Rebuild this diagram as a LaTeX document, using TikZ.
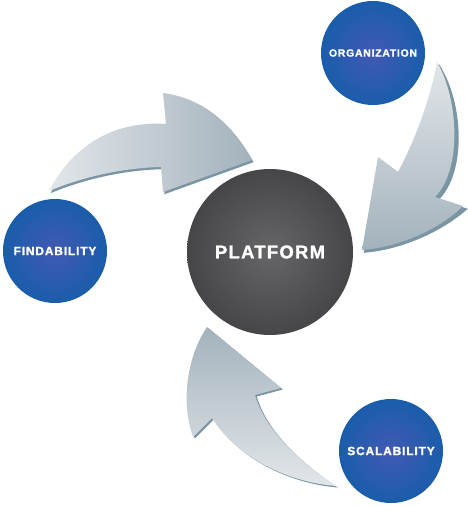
\documentclass[tikz,border=0pt]{standalone}
\usepackage{fontspec}
\newfontfamily\lab[LetterSpace=7,FakeBold=1.3]{Liberation Sans}
\definecolor{arrlight}{HTML}{E2E6E9}
\definecolor{arrdark}{HTML}{A3B2BC}
\definecolor{arrshadow}{HTML}{7A95A3}
\definecolor{blueout}{HTML}{1A5DAB}
\definecolor{bluein}{HTML}{4259B3}
\definecolor{grayout}{HTML}{464648}
\definecolor{grayin}{HTML}{666668}
\tikzset{
  small/.style={circle, inner sep=0pt, minimum size=104bp, shade, inner color=bluein, outer color=blueout, text=white, font=\lab\bfseries\fontsize{12}{12}\selectfont},
  big/.style={circle, inner sep=0pt, minimum size=166bp, shade, inner color=grayin, outer color=grayout, text=white, font=\lab\bfseries\fontsize{18.5}{18.5}\selectfont},
  shadowfill/.style={fill=arrshadow}
}
\begin{document}
\begin{tikzpicture}[x=1bp,y=-1bp]
\useasboundingbox (0,0) rectangle (468,507);
% ---- top-left arrow
\begin{scope}[shift={(1.5,2.2)}]
\fill[shadowfill] (49,191) .. controls (80,178) and (120,168) .. (161,167) -- (163,192) -- (252,160)
  .. controls (230,120) and (200,98) .. (163,93) -- (166,124) .. controls (110,120) and (70,150) .. (49,191) -- cycle;
\end{scope}
\shade[left color=arrlight, right color=arrdark] (49,191) .. controls (80,178) and (120,168) .. (161,167) -- (163,192) -- (252,160)
  .. controls (230,120) and (200,98) .. (163,93) -- (166,124) .. controls (110,120) and (70,150) .. (49,191) -- cycle;
% ---- right arrow
\begin{scope}[shift={(1.8,1.8)}]
\fill[shadowfill] (437,62) .. controls (462,100) and (465,170) .. (437,198) -- (466,207)
  .. controls (440,230) and (400,248) .. (362,251) -- (378,157) -- (398,172)
  .. controls (415,140) and (430,100) .. (437,62) -- cycle;
\end{scope}
\shade[top color=arrlight, bottom color=arrdark] (437,62) .. controls (459,100) and (462,170) .. (435,197) -- (463,206)
  .. controls (440,229) and (400,247) .. (362,250) -- (378,157) -- (398,172)
  .. controls (415,140) and (430,100) .. (437,62) -- cycle;
% ---- bottom arrow
\begin{scope}[shift={(1.8,1.5)}]
\fill[shadowfill] (336,486) .. controls (300,462) and (265,430) .. (255,395) -- (281,388) -- (207,327)
  .. controls (188,355) and (180,400) .. (193,437) -- (212,418)
  .. controls (235,455) and (285,482) .. (336,486) -- cycle;
\end{scope}
\shade[top color=arrdark, bottom color=arrlight] (336,486) .. controls (300,462) and (265,430) .. (255,395) -- (281,388) -- (207,327)
  .. controls (188,355) and (180,400) .. (193,437) -- (212,418)
  .. controls (235,455) and (285,482) .. (336,486) -- cycle;
% ---- circles
\node[big] (platform) at (270,252) {PLATFORM};
\node[small] (find) at (55,251) {FINDABILITY};
\node[small, font=\lab\bfseries\fontsize{10.5}{10.5}\selectfont] (org) at (373,53) {ORGANIZATION};
\node[small] (scal) at (391,451) {SCALABILITY};
\end{tikzpicture}
\end{document}
